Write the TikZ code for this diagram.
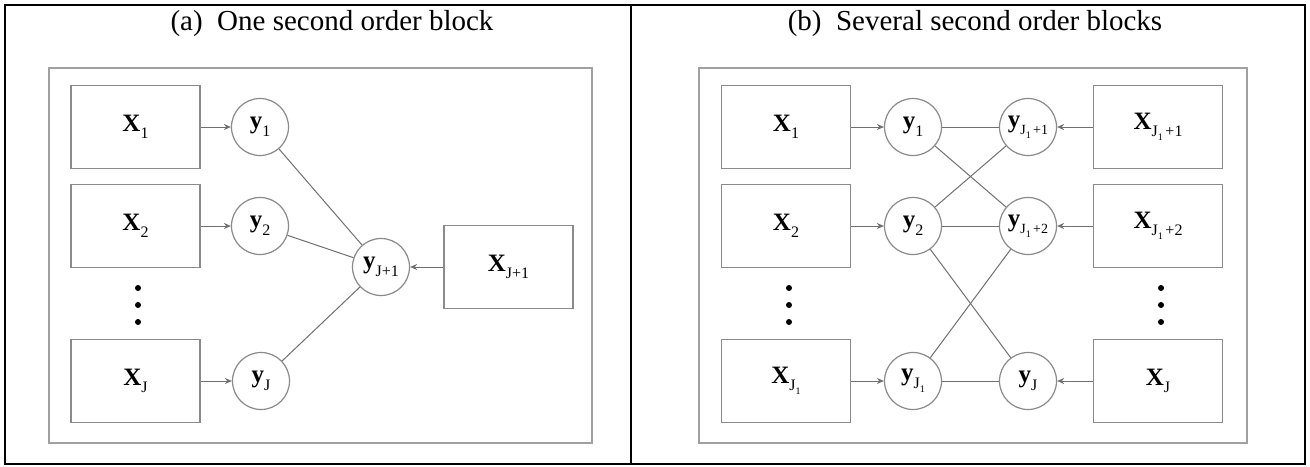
\documentclass[tikz,border=0pt]{standalone}
\usepackage{fontspec}
\setmainfont{Liberation Serif}
\usetikzlibrary{arrows.meta}
\definecolor{boxgray}{HTML}{8A8A8A}
\definecolor{framegray}{HTML}{A0A0A0}
\definecolor{linegray}{HTML}{707070}
\newcommand\subsz{\fontsize{8pt}{9pt}\selectfont}
\newcommand\lbl[2]{\textbf{#1}\raisebox{-0.3em}{\subsz #2}}
\newcommand\jone{J\raisebox{-0.25em}{\fontsize{5pt}{6pt}\selectfont 1}}
\begin{document}
\begin{tikzpicture}[x=0.5pt,y=-0.5pt,
  xbox/.style={draw=boxgray, line width=0.75pt, minimum width=64.5pt, minimum height=41.5pt, inner sep=0pt, font=\fontsize{12.5pt}{13pt}\selectfont},
  ycirc/.style={draw=boxgray, circle, line width=0.6pt, minimum size=28.5pt, inner sep=0pt, font=\fontsize{12.5pt}{13pt}\selectfont},
  innerframe/.style={draw=framegray, line width=1pt},
  arr/.style={draw=linegray, line width=0.5pt, -{Stealth[length=3.5pt,width=3pt]}},
  link/.style={draw=linegray, line width=0.5pt},
  dotnode/.style={circle, fill=black, inner sep=0pt, minimum size=3pt},
  ttl/.style={font=\fontsize{14.5pt}{16pt}\selectfont}]
\useasboundingbox (0,0) rectangle (1310,466);
\fill[white] (0,0) rectangle (1310,466);
% outer frame and divider
\draw[line width=1.25pt] (5,5) rectangle (1305,464);
\draw[line width=1.25pt] (631,5) -- (631,464);
% titles
\node[ttl] (ta) at (332,24) {(a)\ \ One second order block};
\node[ttl] (tb) at (975,24) {(b)\ \ Several second order blocks};
% ---------- panel (a)
\draw[innerframe] (49,68) rectangle (592,443);
\node[xbox] (aX1) at (135.5,127) {\lbl{X}{1}};
\node[xbox] (aX2) at (135.5,226) {\lbl{X}{2}};
\node[xbox] (aXJ) at (135.5,381) {\lbl{X}{J}};
\node[dotnode] (ad1) at (138,288) {};
\node[dotnode] (ad2) at (138,305) {};
\node[dotnode] (ad3) at (138,322) {};
\node[ycirc] (ay1) at (260,127) {\lbl{y}{1}};
\node[ycirc] (ay2) at (260,226) {\lbl{y}{2}};
\node[ycirc] (ayJ) at (261,381) {\lbl{y}{J}};
\node[ycirc] (ayK) at (381,267) {\lbl{y}{J+1}};
\node[xbox] (aXK) at (508.5,267) {\lbl{X}{J+1}};
\draw[arr] (aX1) -- (ay1);
\draw[arr] (aX2) -- (ay2);
\draw[arr] (aXJ) -- (ayJ);
\draw[arr] (aXK) -- (ayK);
\draw[link] (ay1) -- (ayK);
\draw[link] (ay2) -- (ayK);
\draw[link] (ayJ) -- (ayK);
% ---------- panel (b)
\draw[innerframe] (699,68) rectangle (1247,443);
\node[xbox] (bX1) at (786,127) {\lbl{X}{1}};
\node[xbox] (bX2) at (786,226) {\lbl{X}{2}};
\node[xbox] (bXJa) at (786,381) {\textbf{X}\raisebox{-0.3em}{\subsz\jone}};
\node[dotnode] (bd1) at (789,288) {};
\node[dotnode] (bd2) at (789,305) {};
\node[dotnode] (bd3) at (789,322) {};
\node[ycirc] (by1) at (913,127) {\lbl{y}{1}};
\node[ycirc] (by2) at (913,226) {\lbl{y}{2}};
\node[ycirc] (byJa) at (913,381) {\textbf{y}\raisebox{-0.3em}{\subsz\jone}};
\node[ycirc] (byA) at (1028,127) {\textbf{y}\raisebox{-0.3em}{\fontsize{7pt}{8pt}\selectfont\jone\,+1}};
\node[ycirc] (byB) at (1028,226) {\textbf{y}\raisebox{-0.3em}{\fontsize{7pt}{8pt}\selectfont\jone\,+2}};
\node[ycirc] (byJ) at (1028,381) {\lbl{y}{J}};
\node[xbox] (bXA) at (1158,127) {\textbf{X}\raisebox{-0.3em}{\subsz\jone\,+1}};
\node[xbox] (bXB) at (1158,226) {\textbf{X}\raisebox{-0.3em}{\subsz\jone\,+2}};
\node[xbox] (bXJ) at (1158,381) {\lbl{X}{J}};
\node[dotnode] (be1) at (1161,288) {};
\node[dotnode] (be2) at (1161,305) {};
\node[dotnode] (be3) at (1161,322) {};
\draw[arr] (bX1) -- (by1);
\draw[arr] (bX2) -- (by2);
\draw[arr] (bXJa) -- (byJa);
\draw[arr] (bXA) -- (byA);
\draw[arr] (bXB) -- (byB);
\draw[arr] (bXJ) -- (byJ);
\draw[link] (by1) -- (byA);
\draw[link] (by1) -- (byB);
\draw[link] (by2) -- (byA);
\draw[link] (by2) -- (byB);
\draw[link] (by2) -- (byJ);
\draw[link] (byJa) -- (byB);
\draw[link] (byJa) -- (byJ);
\end{tikzpicture}
\end{document}
